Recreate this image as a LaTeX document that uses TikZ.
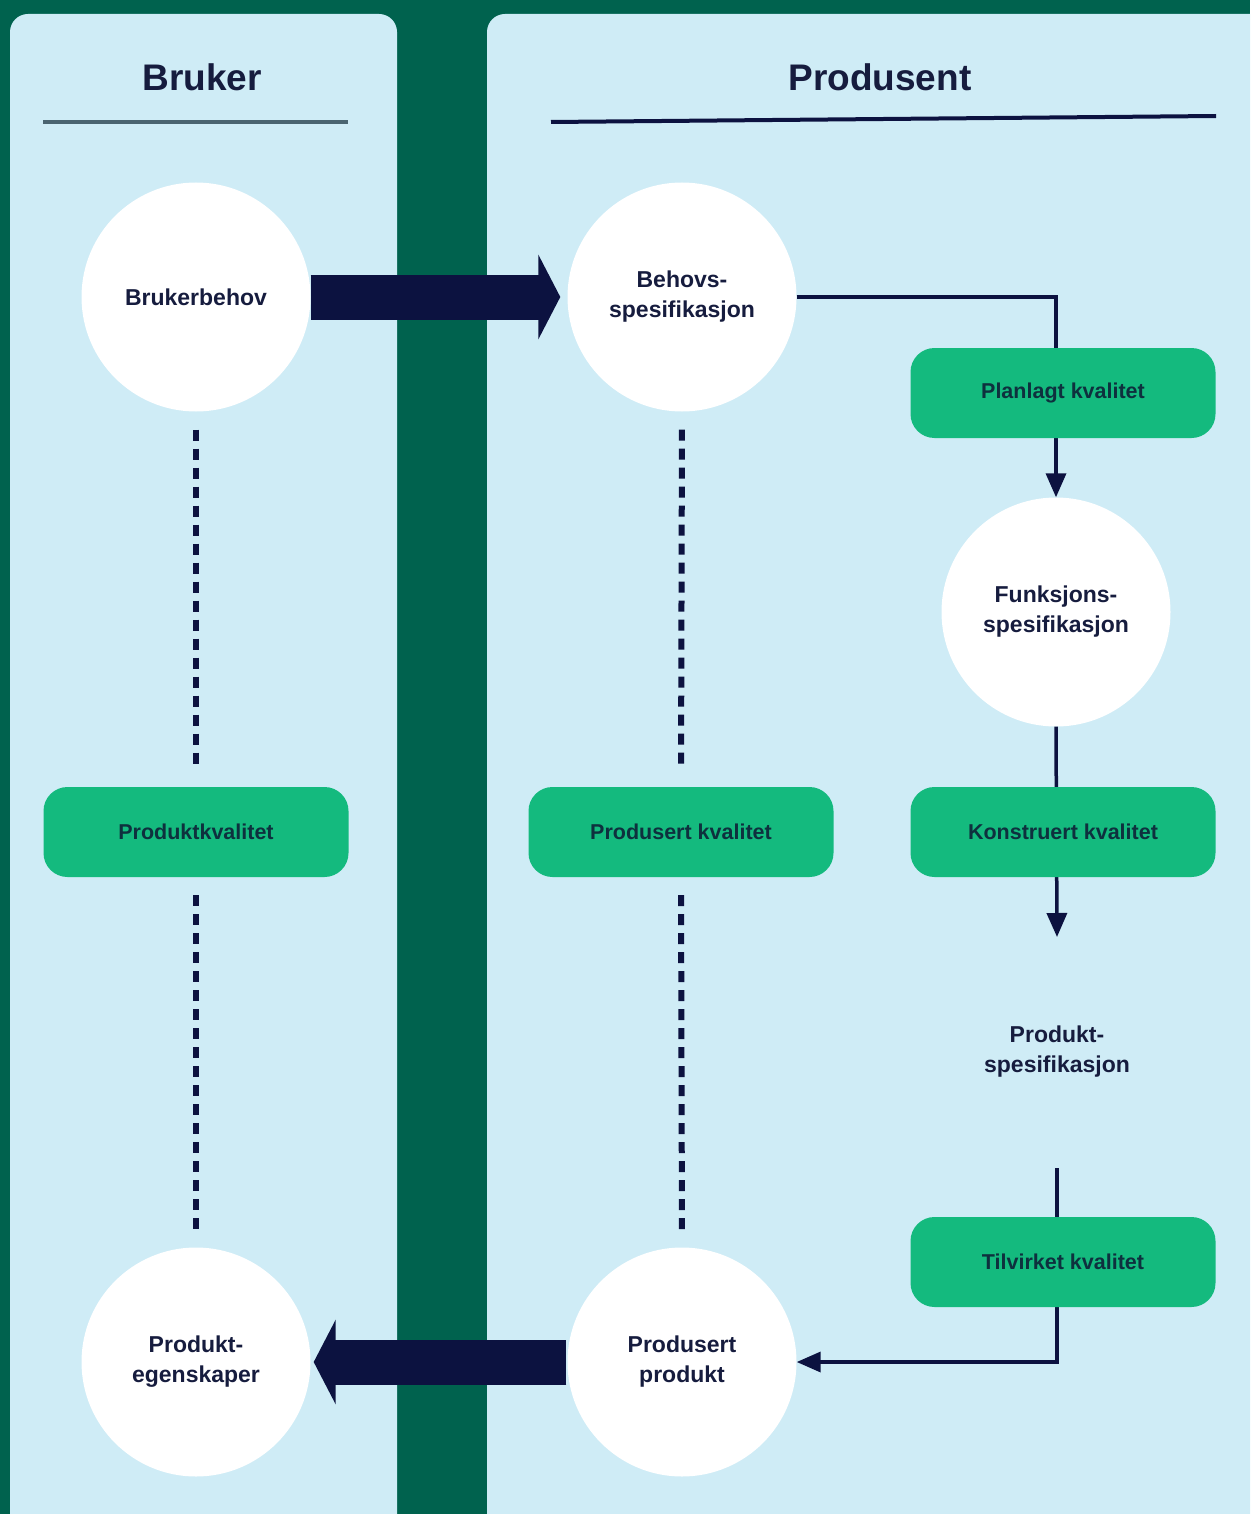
\documentclass[tikz,border=0pt]{standalone}
\usepackage{fontspec}
\setmainfont{Liberation Sans}
\usetikzlibrary{arrows.meta}
\definecolor{bgdark}{RGB}{0,98,78}
\definecolor{panel}{RGB}{207,236,246}
\definecolor{boxgreen}{RGB}{20,186,126}
\definecolor{navy}{RGB}{12,18,64}
\definecolor{txtnavy}{RGB}{22,28,62}
\definecolor{boxtxt}{RGB}{14,48,62}
\definecolor{grayline}{RGB}{74,100,112}
\tikzset{
  circ/.style={circle, fill=white, minimum size=229pt, inner sep=0pt, align=center,
    font=\fontsize{23}{30}\selectfont\bfseries, text=txtnavy},
  qbox/.style={rectangle, rounded corners=24pt, fill=boxgreen, minimum width=305pt,
    minimum height=90pt, inner sep=0pt, font=\fontsize{21.5}{26}\selectfont\bfseries, text=boxtxt},
  plaintxt/.style={align=center, font=\fontsize{23}{30}\selectfont\bfseries, text=txtnavy},
  title/.style={font=\fontsize{37}{40}\selectfont\bfseries, text=txtnavy},
  conn/.style={draw=navy, line width=3.5pt},
  tip/.style={-{Triangle[width=20pt,length=24pt]}},
  bigarrow/.style={draw=navy, line width=45pt, -{Triangle[width=84pt,length=22pt]}},
  dotline/.style={draw=navy, line width=6pt, dash pattern=on 11pt off 8pt},
}
\begin{document}
\begin{tikzpicture}[x=1pt,y=-1pt]
\useasboundingbox (0,0) rectangle (1250,1514);
\clip (0,0) rectangle (1250,1514);
\fill[bgdark] (0,0) rectangle (1250,1514);
\fill[panel, rounded corners=18pt] (10,1560) -- (10,14) -- (397,14) -- (397,1560) -- cycle;
\fill[panel, rounded corners=18pt] (487,1560) -- (487,14) -- (1290,14) -- (1290,1560) -- cycle;

% titles
\node[title] (tb) at (202,77) {Bruker};
\node[title] (tp) at (880,77) {Produsent};
\coordinate (lb1) at (43,122); \coordinate (lb2) at (348,122);
\coordinate (lp1) at (551,122); \coordinate (lp2) at (1216,116);
\draw[grayline, line width=4pt] (lb1) -- (lb2);
\draw[navy, line width=4pt] (lp1) -- (lp2);

% circles
\node[circ] (bb) at (196,297) {Brukerbehov};
\node[circ] (bs) at (682,297) {Behovs-\\spesifikasjon};
\node[circ] (fs) at (1056,612) {Funksjons-\\spesifikasjon};
\node[circ] (pe) at (196,1362) {Produkt-\\egenskaper};
\node[circ] (pp) at (682,1362) {Produsert\\produkt};
\node[plaintxt] (ps) at (1057,1052) {Produkt-\\spesifikasjon};

\coordinate (psin) at (1057,937);
\coordinate (psout) at (1057,1168);
\coordinate (corner) at (1057,1362);

% thin connectors
\draw[conn, tip] (bs.east) -| (fs.north);
\draw[conn, tip] (fs.south) -- (psin);
\draw[conn, tip] (psout) -- (corner) -- (pp.east);

% big arrows
\draw[bigarrow, shorten >=7pt] (bb.east) -- (bs.west);
\draw[bigarrow, shorten <=1pt, shorten >=3pt] (pp.west) -- (pe.east);

% boxes
\node[qbox] (pk) at (196,832) {Produktkvalitet};
\node[qbox] (prk) at (681,832) {Produsert kvalitet};
\node[qbox] (plk) at (1063,393) {Planlagt kvalitet};
\node[qbox] (kk) at (1063,832) {Konstruert kvalitet};
\node[qbox] (tk) at (1063,1262) {Tilvirket kvalitet};

% dotted links
\draw[dotline, shorten <=18pt, shorten >=18pt] (bb.south) -- (pk.north);
\draw[dotline, shorten <=18pt, shorten >=16pt] (pk.south) -- (pe.north);
\draw[dotline, shorten <=18pt, shorten >=18pt] (bs.south) -- (prk.north);
\draw[dotline, shorten <=18pt, shorten >=16pt] (prk.south) -- (pp.north);
\end{tikzpicture}
\end{document}
